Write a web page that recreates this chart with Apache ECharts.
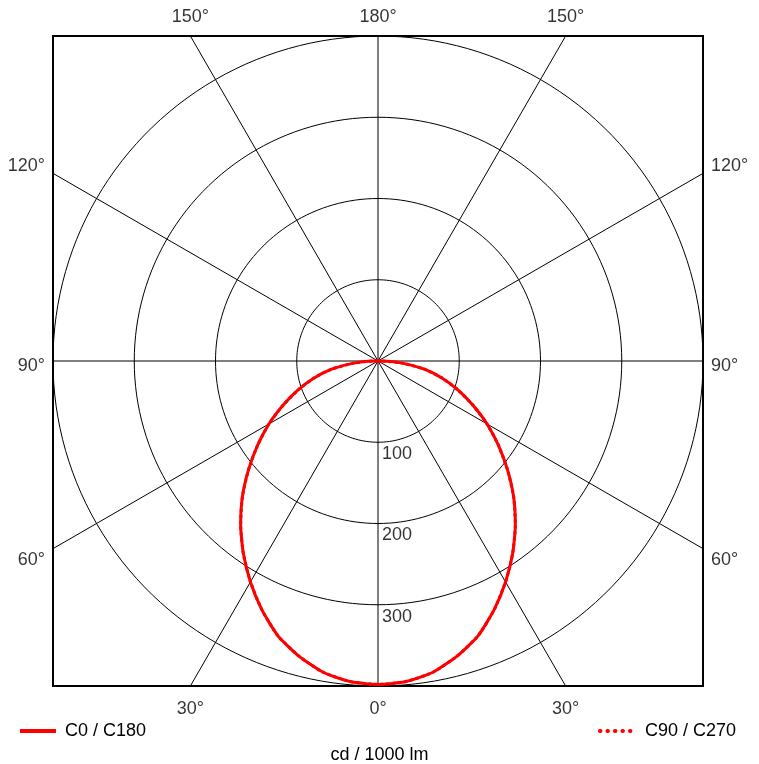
<!DOCTYPE html>
<html>
<head>
<meta charset="utf-8">
<title>Polar LDC</title>
<script src="https://cdn.jsdelivr.net/npm/echarts@6/dist/echarts.min.js"></script>
<style>
  html, body { margin: 0; padding: 0; background: #fff; }
  #chart { width: 759px; height: 764px; }
</style>
</head>
<body>
<div id="chart"></div>
<script>
// gamma angles (deg from nadir) and intensities (cd / 1000 lm)
const gamma = [0, 5, 10, 15, 20, 25, 30, 35, 40, 45, 50, 55, 60, 65, 70, 75, 80, 85, 90, 95, 100, 120, 150, 180]
const c0c180 = [398, 396, 389, 376, 360, 338, 314, 289, 263, 236, 208, 181, 155, 129, 105, 82, 58, 30, 5, 0, 0, 0, 0, 0]
const c90c270 = [398, 396, 389, 376, 360, 338, 314, 289, 263, 236, 208, 181, 155, 129, 105, 82, 58, 30, 5, 0, 0, 0, 0, 0]

const rings = [100, 200, 300, 400] // radial grid
const ringLabels = [100, 200, 300]
const spokeAngles = [0, 30, 60, 90, 120, 150] // diameters
const angleLabels = [0, 30, 60, 90, 120, 150, 180]

const RMAX = 400
const FONT = 'Liberation Sans, Arial, sans-serif'
const rad = d => d * Math.PI / 180

// polar -> cartesian, side -1 = left half (C180 / C270), +1 = right half (C0 / C90)
function toXY(side, g, r){
  return [side * r * Math.sin(rad(g)), -r * Math.cos(rad(g))]
}
function curve(vals){
  let pts = []
  for(let i = gamma.length - 1; i >= 0; i--) pts.push(toXY(-1, gamma[i], vals[i]))
  for(let i = 1; i < gamma.length; i++) pts.push(toXY(1, gamma[i], vals[i]))
  return pts
}
// where a ray from the centre hits the square frame
function onFrame(side, g){
  let dx = side * Math.sin(rad(g)), dy = -Math.cos(rad(g))
  let k = RMAX / Math.max(Math.abs(dx), Math.abs(dy))
  return [dx * k, dy * k]
}

let series = []
// circles
rings.forEach(r => {
  let pts = []
  for(let a = 0; a <= 360; a += 2) pts.push([r * Math.sin(rad(a)), r * Math.cos(rad(a))])
  series.push({
    type: 'line', data: pts, symbol: 'none', silent: true, z: 1,
    lineStyle: { color: '#000', width: 1 }
  })
})
// spokes: frame point at g and its opposite
spokeAngles.forEach(g => {
  let p = onFrame(-1, g)
  series.push({
    type: 'line', data: [p, [-p[0], -p[1]]], symbol: 'none', silent: true, z: 1,
    lineStyle: { color: '#000', width: 1 }
  })
})

// photometric curves
series.push({
  name: 'C0 / C180', type: 'line', data: curve(c0c180), symbol: 'none', smooth: 0.2, z: 3,
  lineStyle: { color: '#ff0000', width: 3 }, itemStyle: { color: '#ff0000' }
})
series.push({
  name: 'C90 / C270', type: 'line', data: curve(c90c270), symbol: 'none', smooth: 0.2, z: 4,
  lineStyle: { color: '#ff0000', width: 3, type: 'dotted' }, itemStyle: { color: '#ff0000' }
})

// radial tick labels
series.push({
  type: 'scatter', symbolSize: 0, silent: true, z: 5,
  data: ringLabels.map(r => [0, -r]),
  label: {
    show: true, position: 'inside', align: 'left', verticalAlign: 'top', offset: [4, 3],
    formatter: p => String(-p.value[1]), fontSize: 18, fontFamily: FONT, color: '#000'
  }
})

// angle labels round the frame
let angData = []
;[-1, 1].forEach(side => {
  angleLabels.forEach(g => {
    if(side == 1 && (g == 0 || g == 180)) return
    let p = onFrame(side, g)
    let lab
    if(Math.abs(Math.abs(p[1]) - RMAX) < 1e-6){
      lab = { align: 'center', verticalAlign: 'middle', offset: [0, p[1] > 0 ? -19 : 23] }
    }else{
      let dy = g < 90 ? 11 : (g == 90 ? 5 : -7)
      lab = side < 0 ? { align: 'right', verticalAlign: 'middle', offset: [-8, dy] }
                     : { align: 'left', verticalAlign: 'middle', offset: [8, dy] }
    }
    angData.push({ value: p, name: g + '°', label: lab })
  })
})
series.push({
  type: 'scatter', symbolSize: 0, silent: true, z: 5, data: angData,
  label: { show: true, position: 'inside', formatter: '{b}', fontSize: 18, fontFamily: FONT, color: '#000' }
})

const option = {
  backgroundColor: '#fff',
  animation: false,
  title: {
    text: 'cd / 1000 lm', left: 'center', top: 741,
    textStyle: { fontSize: 18, fontWeight: 'normal', fontFamily: FONT, color: '#000' }
  },
  legend: [
    {
      data: ['C0 / C180'], left: 13, top: 717, itemWidth: 36, itemHeight: 14,
      itemStyle: { opacity: 0 },
      lineStyle: { width: 4 }, textStyle: { fontSize: 18, fontFamily: FONT, color: '#000', padding: [0, 0, 0, 4] }
    },
    {
      data: ['C90 / C270'], right: 18, top: 717, itemWidth: 34, itemHeight: 14,
      itemStyle: { opacity: 0 },
      lineStyle: { width: 4, type: [0.5, 7], cap: 'round' },
      textStyle: { fontSize: 18, fontFamily: FONT, color: '#000', padding: [0, 0, 0, 6] }
    }
  ],
  grid: {
    left: 53, top: 36, width: 650, height: 650, show: true,
    borderColor: '#000', borderWidth: 2, backgroundColor: 'transparent'
  },
  xAxis: { type: 'value', min: -RMAX, max: RMAX, show: false },
  yAxis: { type: 'value', min: -RMAX, max: RMAX, show: false },
  series: series
}

let myChart = echarts.init(document.getElementById('chart'))
myChart.setOption(option)
</script>
</body>
</html>
